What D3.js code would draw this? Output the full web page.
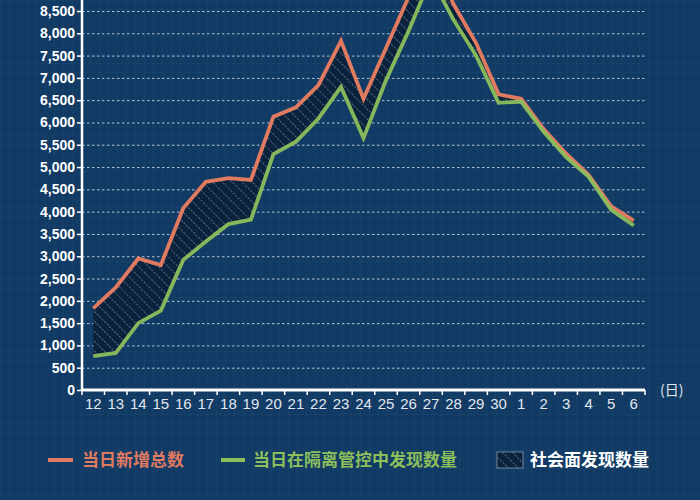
<!DOCTYPE html>
<html><head><meta charset="utf-8">
<script src="https://cdn.jsdelivr.net/npm/d3@7"></script>
<style>
html,body{margin:0;padding:0;background:#113b64;}
svg{display:block;}
</style></head>
<body>
<svg id="c" width="700" height="500"></svg>
<script>
// ---- data ----
const categories = ["12","13","14","15","16","17","18","19","20","21","22","23","24","25","26","27","28","29","30","1","2","3","4","5","6"];
const totalNew =      [1830,2300,2950,2800,4080,4670,4750,4710,6130,6340,6840,7830,6530,7670,8810,9800,8650,7780,6630,6530,5850,5300,4820,4120,3800];
const inQuarantine =  [760,830,1500,1780,2920,3330,3720,3820,5290,5570,6090,6800,5650,6950,8050,9250,8300,7500,6440,6470,5790,5220,4780,4040,3690];
const yTicks = [0,500,1000,1500,2000,2500,3000,3500,4000,4500,5000,5500,6000,6500,7000,7500,8000,8500];
const seriesNames = ["当日新增总数","当日在隔离管控中发现数量","社会面发现数量"];
const unitLabel = "(日)";

const RED = "#e07a60", GREEN = "#8cbf5c", BG = "#113b64";
const svg = d3.select("#c");
const defs = svg.append("defs");

// background faint grid pattern
const bgp = defs.append("pattern").attr("id","bgp").attr("patternUnits","userSpaceOnUse").attr("width",9).attr("height",9);
bgp.append("rect").attr("width",9).attr("height",9).attr("fill",BG);
bgp.append("path").attr("d","M0,0.5H9M0.5,0V9").attr("stroke","rgba(255,255,255,0.025)").attr("stroke-width",1);
svg.append("rect").attr("width",700).attr("height",500).attr("fill","url(#bgp)");

// hatch pattern
const hp = defs.append("pattern").attr("id","hatch").attr("patternUnits","userSpaceOnUse")
  .attr("width",7).attr("height",7).attr("patternTransform","rotate(-45)");
hp.append("rect").attr("width",7).attr("height",7).attr("fill","#0b223d");
hp.append("line").attr("x1",0.5).attr("y1",0).attr("x2",0.5).attr("y2",7)
  .attr("stroke","rgba(200,220,240,0.4)").attr("stroke-width",1).attr("stroke-dasharray","2,1.5");

// scales
const x = d3.scaleBand().domain(categories).range([82,645]).padding(0);
const y = d3.scaleLinear().domain([0,8500]).range([390,11]);
const cx = c => x(c) + x.bandwidth()/2;

// grid lines
const grid = svg.append("g").attr("transform","translate(82,0)")
  .call(d3.axisLeft(y).tickValues(yTicks.slice(1)).tickSize(-(645-82)).tickFormat(""));
grid.select(".domain").remove();
grid.selectAll("line").attr("stroke","rgba(235,240,250,0.75)").attr("stroke-width",1).attr("stroke-dasharray","2.5,2.5");

// area between
const idx = d3.range(categories.length);
const area = d3.area().x(i=>cx(categories[i])).y0(i=>y(inQuarantine[i])).y1(i=>y(totalNew[i]));
svg.append("path").datum(idx).attr("d",area).attr("fill","url(#hatch)");

// lines
const lineT = d3.line().x(i=>cx(categories[i])).y(i=>y(totalNew[i]));
const lineQ = d3.line().x(i=>cx(categories[i])).y(i=>y(inQuarantine[i]));
svg.append("path").datum(idx).attr("d",lineT).attr("fill","none").attr("stroke",RED).attr("stroke-width",3.8).attr("stroke-linejoin","miter");
svg.append("path").datum(idx).attr("d",lineQ).attr("fill","none").attr("stroke",GREEN).attr("stroke-width",3.8).attr("stroke-linejoin","miter").attr("opacity",0.95);

// y axis
const ya = svg.append("g").attr("transform","translate(82,0)")
  .call(d3.axisLeft(y).tickValues(yTicks).tickSize(5).tickPadding(2).tickSizeOuter(0).tickFormat(d3.format(",")));
ya.select(".domain").remove();
ya.selectAll("line").attr("stroke","#fff").attr("stroke-width",1.5);
ya.selectAll("text").attr("fill","#fff").style("font-family","'Liberation Sans',Arial,sans-serif").style("font-size","14px").style("font-weight","bold");
svg.append("line").attr("x1",82).attr("x2",82).attr("y1",y(0)+1).attr("y2",0).attr("stroke","#fff").attr("stroke-width",2.5);

// x axis
const xa = svg.append("g").attr("transform",`translate(0,${y(0)})`)
  .call(d3.axisBottom(x).tickSize(0).tickPadding(8));
xa.select(".domain").remove();
xa.selectAll("text").attr("fill","#e2e6ee").style("font-family","'Liberation Sans',Arial,sans-serif").style("font-size","15px");
svg.append("line").attr("x1",82).attr("x2",645).attr("y1",y(0)).attr("y2",y(0)).attr("stroke","#fff").attr("stroke-width",3);
svg.append("g").selectAll("line").data(categories.concat([null])).join("line")
  .attr("x1",c=>c===null? x.range()[1] : x(c)).attr("x2",c=>c===null? x.range()[1] : x(c))
  .attr("y1",y(0)).attr("y2",y(0)+5).attr("stroke","#fff").attr("stroke-width",1.5);
svg.append("text").attr("x",660).attr("y",y(0)+5).text(unitLabel)
  .attr("fill","#e2e6ee").style("font-family","'Noto Sans CJK SC',sans-serif").style("font-size","14px");

// legend
const lg = svg.append("g").style("font-family","'Noto Sans CJK SC',sans-serif").style("font-size","17px").style("font-weight","bold");
const ly = 460;
lg.append("line").attr("x1",48).attr("x2",73).attr("y1",ly).attr("y2",ly).attr("stroke",RED).attr("stroke-width",4);
lg.append("text").attr("x",82).attr("y",ly).attr("dy","0.36em").attr("fill",RED).text(seriesNames[0]);
lg.append("line").attr("x1",221).attr("x2",245).attr("y1",ly).attr("y2",ly).attr("stroke",GREEN).attr("stroke-width",4);
lg.append("text").attr("x",253).attr("y",ly).attr("dy","0.36em").attr("fill",GREEN).text(seriesNames[1]);
lg.append("rect").attr("x",497).attr("y",452).attr("width",26).attr("height",16).attr("fill","url(#hatch)").attr("stroke","rgba(200,220,240,0.5)").attr("stroke-width",1);
lg.append("text").attr("x",530).attr("y",ly).attr("dy","0.36em").attr("fill","#ffffff").text(seriesNames[2]);
</script>
</body></html>
